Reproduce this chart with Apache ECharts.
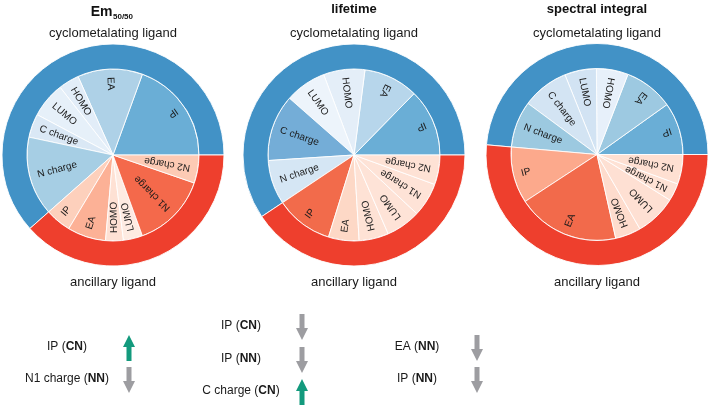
<!DOCTYPE html>
<html><head><meta charset="utf-8">
<script src="https://cdn.jsdelivr.net/npm/echarts@6/dist/echarts.min.js"></script>
<style>html,body{margin:0;padding:0;background:#fff}#c{width:709px;height:407px}</style>
</head><body><div id="c"></div>
<script>
// ---- categories ----
const sliceCyclo = ['IP', 'EA', 'HOMO', 'LUMO', 'C charge', 'N charge'];
const sliceAnc = ['IP', 'EA', 'HOMO', 'LUMO', 'N1 charge', 'N2 charge'];
const ringNames = ['cyclometalating ligand', 'ancillary ligand'];
const panelTitles = ['Em', 'lifetime', 'spectral integral'];
const emSubscript = '50/50';

// ---- values (relative importance, read as slice angles) ----
const emCyclo = [70, 44, 14, 24, 16, 53.5];
const emAnc = [17.5, 26, 12, 13, 51, 19];
const lifeCyclo = [45.6, 37, 28, 28, 45, 30];
const lifeAnc = [39, 20.7, 20, 23.5, 23, 20];
const specCyclo = [35.5, 33.4, 21.5, 21.5, 31.6, 31.5];
const specAnc = [38.2, 69.4, 17.4, 28, 12, 20];

// ---- summary lists under each panel ----
const emSumLabels = ['IP', 'N1 charge'];
const emSumLig = ['CN', 'NN'];
const emSumDir = ['up', 'down'];
const lifeSumLabels = ['IP', 'IP', 'C charge'];
const lifeSumLig = ['CN', 'NN', 'CN'];
const lifeSumDir = ['down', 'down', 'up'];
const specSumLabels = ['EA', 'IP'];
const specSumLig = ['NN', 'NN'];
const specSumDir = ['down', 'down'];

// ---- styles ----
const ringColors = ['#4292c6', '#ee3f2d'];
const emCycloColors = ['#6aaed6', '#aed1e7', '#e2edf8', '#e6f0f9', '#dae8f5', '#a6cee4'];
const emAncColors = ['#fdd0bc', '#fcb196', '#fee1d4', '#feebe2', '#f4694b', '#fdcab4'];
const lifeCycloColors = ['#6aaed6', '#b7d6eb', '#e4eef8', '#edf4fb', '#74add7', '#d5e6f4'];
const lifeAncColors = ['#f26b4b', '#fdd8c6', '#fee2d5', '#fee3d7', '#fee3d7', '#fee2d5'];
const specCycloColors = ['#6aaed6', '#9dc9e1', '#e7f0fa', '#d2e3f3', '#d3e4f3', '#9cc9e0'];
const specAncColors = ['#fca98c', '#f26a4b', '#fedccd', '#fee0d3', '#fee2d5', '#fee0d2'];
const upColor = '#139a7d';
const downColor = '#9d9da1';
const FONT = '"Liberation Sans", Arial, Helvetica, sans-serif';

const panels = [
  {cx: 113, cy: 155, cyclo: emCyclo, anc: emAnc, cc: emCycloColors, ac: emAncColors,
   sum: [emSumLabels, emSumLig, emSumDir], tx: 67, ax: 129, ys: [347, 379]},
  {cx: 354, cy: 155, cyclo: lifeCyclo, anc: lifeAnc, cc: lifeCycloColors, ac: lifeAncColors,
   sum: [lifeSumLabels, lifeSumLig, lifeSumDir], tx: 241, ax: 302, ys: [326, 359, 391]},
  {cx: 597, cy: 154.5, cyclo: specCyclo, anc: specAnc, cc: specCycloColors, ac: specAncColors,
   sum: [specSumLabels, specSumLig, specSumDir], tx: 417, ax: 477, ys: [347, 379]}
];
const R0 = 86, R1 = 111, LR = 78;
const sum = a => a.reduce((s, v) => s + v, 0);

const series = [];
const graphic = [];
panels.forEach((p, k) => {
  const vals = p.cyclo.concat(p.anc);
  const names = sliceCyclo.concat(sliceAnc);
  const cols = p.cc.concat(p.ac);
  const total = sum(vals);
  const mids = [];
  let acc = 0;
  vals.forEach(v => { mids.push((acc + v / 2) / total * 360); acc += v; });
  series.push({
    type: 'pie', center: [p.cx, p.cy], radius: [0, R0], startAngle: 0, clockwise: false,
    silent: true, animation: false, avoidLabelOverlap: false,
    itemStyle: {borderColor: 'rgba(255,255,255,0.85)', borderWidth: 1},
    label: {show: true, position: 'inside', formatter: '{b}', fontSize: 10, fontFamily: FONT, color: '#1a1a1a'},
    labelLine: {show: false},
    emphasis: {disabled: true},
    data: vals.map((v, i) => ({name: names[i], value: v, itemStyle: {color: cols[i]}})),
    labelLayout: prm => {
      const a = mids[prm.dataIndex];
      const r = a * Math.PI / 180;
      return {x: p.cx + LR * Math.cos(r), y: p.cy - LR * Math.sin(r),
              rotate: (a + 180) % 360, align: 'left', verticalAlign: 'middle'};
    }
  });
  series.push({
    type: 'pie', center: [p.cx, p.cy], radius: [R0, R1], startAngle: 0, clockwise: false,
    silent: true, animation: false,
    itemStyle: {borderColor: 'rgba(255,255,255,0.9)', borderWidth: 1},
    label: {show: false}, labelLine: {show: false}, emphasis: {disabled: true},
    data: [
      {name: ringNames[0], value: sum(p.cyclo), itemStyle: {color: ringColors[0]}},
      {name: ringNames[1], value: sum(p.anc), itemStyle: {color: ringColors[1]}}
    ]
  });
  // ring captions
  graphic.push({type: 'text', silent: true, style: {text: ringNames[0], x: p.cx, y: 33, align: 'center', verticalAlign: 'middle',
    fontSize: 13, fontFamily: FONT, fill: '#1a1a1a'}});
  graphic.push({type: 'text', silent: true, style: {text: ringNames[1], x: p.cx, y: 282, align: 'center', verticalAlign: 'middle',
    fontSize: 13, fontFamily: FONT, fill: '#1a1a1a'}});
  // titles
  if (k === 0) {
    graphic.push({type: 'text', silent: true, style: {text: panelTitles[0], x: p.cx - 0.5, y: 12.5, align: 'right', verticalAlign: 'middle',
      fontSize: 14, fontWeight: 'bold', fontFamily: FONT, fill: '#111'}});
    graphic.push({type: 'text', silent: true, style: {text: emSubscript, x: p.cx, y: 17, align: 'left', verticalAlign: 'middle',
      fontSize: 8, fontWeight: 'bold', fontFamily: FONT, fill: '#111'}});
  } else {
    graphic.push({type: 'text', silent: true, style: {text: panelTitles[k], x: p.cx, y: 9, align: 'center', verticalAlign: 'middle',
      fontSize: 13, fontWeight: 'bold', fontFamily: FONT, fill: '#111'}});
  }
  // summary lists
  const [labs, ligs, dirs] = p.sum;
  labs.forEach((lab, i) => {
    const y = p.ys[i];
    graphic.push({type: 'text', silent: true, style: {
      text: '{n|' + lab + ' (}{b|' + ligs[i] + '}{n|)}', x: p.tx, y: y, align: 'center', verticalAlign: 'middle',
      rich: {n: {fontSize: 12, fontFamily: FONT, fill: '#1a1a1a'},
             b: {fontSize: 12, fontFamily: FONT, fontWeight: 'bold', fill: '#1a1a1a'}}}});
    const x = p.ax, yc = y + 1, h = 13, hh = 12, hw = 6, sw = 2.5;
    let pts;
    if (dirs[i] === 'up') {
      pts = [[x, yc - h], [x + hw, yc - h + hh], [x + sw, yc - h + hh], [x + sw, yc + h], [x - sw, yc + h], [x - sw, yc - h + hh], [x - hw, yc - h + hh]];
    } else {
      pts = [[x, yc + h], [x + hw, yc + h - hh], [x + sw, yc + h - hh], [x + sw, yc - h], [x - sw, yc - h], [x - sw, yc + h - hh], [x - hw, yc + h - hh]];
    }
    graphic.push({type: 'polygon', silent: true, shape: {points: pts},
      style: {fill: dirs[i] === 'up' ? upColor : downColor}});
  });
});

const chart = echarts.init(document.getElementById('c'), null, {renderer: 'canvas'});
chart.setOption({backgroundColor: '#fff', animation: false, series: series, graphic: graphic});
</script>
</body></html>
